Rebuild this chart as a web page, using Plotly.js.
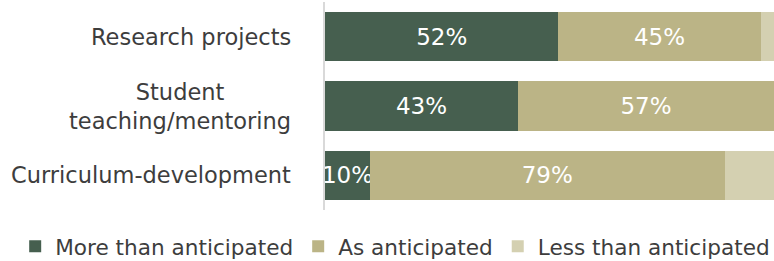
<!DOCTYPE html>
<html>
<head>
<meta charset="utf-8">
<script src="https://cdn.plot.ly/plotly-3.0.1.min.js"></script>
<style>html,body{margin:0;padding:0;background:#fff;}#chart{width:774px;height:261px;}</style>
</head>
<body>
<div id="chart"></div>
<script>
const categories = ['Research projects', 'Student<br>teaching/mentoring', 'Curriculum-development'];
const seriesNames = ['More than anticipated', 'As anticipated', 'Less than anticipated'];
const moreThan = [52, 43, 10];
const asAnticipated = [45, 57, 79];
const lessThan = [3, 0, 11];
const colors = ['#465f4f', '#bbb486', '#d4d0b1'];

const FONT = 'DejaVu Sans, Arial, sans-serif';
const values = [moreThan, asAnticipated, lessThan];
const traces = values.map((v, i) => ({
  type: 'bar',
  orientation: 'h',
  name: seriesNames[i],
  y: categories,
  x: v,
  marker: {color: colors[i]},
  text: i < 2 ? v.map(d => d + '%') : v.map(() => ''),
  textposition: i < 2 ? 'inside' : 'none',
  insidetextanchor: 'middle',
  textangle: 0,
  constraintext: 'none',
  textfont: {family: FONT, size: 23, color: '#ffffff'},
  hoverinfo: 'none'
}));

const annotations = categories.map(c => ({
  xref: 'paper', yref: 'y', x: -0.071, y: c,
  xanchor: 'right', yanchor: 'middle', align: 'center',
  text: c, showarrow: false,
  font: {family: FONT, size: 22.5, color: '#3d3d3d'}
}));

const layout = {
  width: 774, height: 261,
  margin: {l: 325, r: 0, t: 2, b: 51, autoexpand: false},
  barmode: 'stack',
  bargap: 0.29,
  paper_bgcolor: '#ffffff', plot_bgcolor: '#ffffff',
  font: {family: FONT, color: '#3d3d3d'},
  xaxis: {range: [0, 100], showgrid: false, zeroline: false, showticklabels: false, showline: false, fixedrange: true},
  yaxis: {autorange: 'reversed', showgrid: false, zeroline: false, showticklabels: false,
          showline: true, linecolor: '#d9d9d9', linewidth: 2, ticks: '', fixedrange: true},
  showlegend: true,
  legend: {orientation: 'h', x: -0.69, xanchor: 'left', y: -0.075, yanchor: 'top',
           font: {family: FONT, size: 21.6, color: '#3d3d3d'}, traceorder: 'normal'},
  annotations: annotations
};

Plotly.newPlot('chart', traces, layout, {displayModeBar: false, staticPlot: true});
</script>
</body>
</html>
